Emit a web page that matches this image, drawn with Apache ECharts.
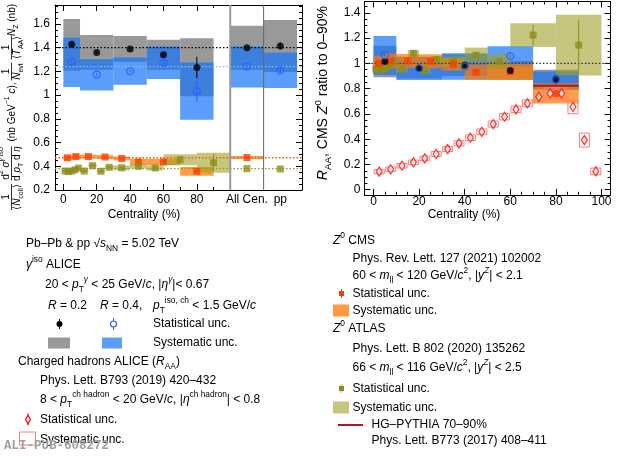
<!DOCTYPE html>
<html>
<head>
<meta charset="utf-8">
<script src="https://cdn.jsdelivr.net/npm/echarts@6.0.0/dist/echarts.min.js"></script>
<style>
html,body{margin:0;padding:0;background:#fff;}
#chart{width:620px;height:456px;}
</style>
</head>
<body>
<div id="chart"></div>
<script>
// ================= DATA =================
// ---- axis ticks / labels ----
const leftXTicks = [0, 20, 40, 60, 80];
const leftXMinorTicks = [10, 30, 50, 70, 90];
const leftXLabelValues = [0, 20, 40, 60, 80, 110, 130];
const leftXLabelText = {110: 'All Cen.', 130: 'pp'};
const leftYTicks = [0.2, 0.4, 0.6, 0.8, 1, 1.2, 1.4, 1.6];
const rightXTicks = [0, 20, 40, 60, 80, 100];
const rightYTicks = [0, 0.2, 0.4, 0.6, 0.8, 1, 1.2, 1.4];
const leftXRange = [-5, 143], leftYRange = [0.2, 1.76];
const rightXRange = [-4, 104], rightYRange = [-0.04, 1.49];

// ---- Left panel: isolated photons ALICE (yields) ----
const gBinLo = [0, 10, 30, 50, 70, 100, 120];
const gBinHi = [10, 30, 50, 70, 90, 120, 140];
const gX = [5, 20, 40, 60, 80, 110, 130];
const gR02 = [1.429, 1.359, 1.390, 1.340, 1.233, 1.400, 1.415];
const gR02Stat = [0.02, 0.012, 0.012, 0.02, 0.09, 0.01, 0.03];
const gR02SysLo = [1.205, 1.214, 1.281, 1.214, 0.990, 1.214, 1.195];
const gR02SysHi = [1.642, 1.508, 1.499, 1.466, 1.480, 1.586, 1.634];
const gR04 = [1.283, 1.174, 1.202, 1.275, 1.034, 1.241, 1.210];
const gR04Stat = [0.015, 0.012, 0.012, 0.02, 0.09, 0.01, 0.025];
const gR04SysLo = [1.068, 1.040, 1.088, 1.135, 0.793, 1.065, 1.060];
const gR04SysHi = [1.485, 1.303, 1.317, 1.410, 1.275, 1.410, 1.359];
const refR02 = 1.40, refR04 = 1.24, refCMS = 0.472, refATLAS = 0.38;
const separators = [100, 120];

// ---- Left panel: Z0 CMS (yields) ----
const cmsLo = [0, 5, 10, 20, 30, 40, 50, 70, 100];
const cmsHi = [5, 10, 20, 30, 40, 50, 70, 90, 120];
const cmsX = [2.5, 7.5, 15, 25, 35, 45, 60, 80, 110];
const cmsYield = [0.471, 0.482, 0.482, 0.478, 0.466, 0.437, 0.437, 0.358, 0.474];
const cmsYieldStat = [0.006, 0.006, 0.005, 0.005, 0.006, 0.008, 0.008, 0.01, 0.003];
const cmsYieldSys = [0.02, 0.018, 0.016, 0.016, 0.016, 0.026, 0.026, 0.037, 0.012];

// ---- Left panel: Z0 ATLAS (yields) ----
const atlLo = [0, 2, 4, 6, 8, 10, 15, 20, 25, 30, 40, 50, 60, 80];
const atlHi = [2, 4, 6, 8, 10, 15, 20, 25, 30, 40, 50, 60, 80, 100];
const atlX = [1, 3, 5, 7, 9, 12.5, 17.5, 22.5, 27.5, 35, 45, 55, 70, 90, 110, 130];
const atlYield = [0.360, 0.355, 0.360, 0.370, 0.385, 0.360, 0.405, 0.358, 0.392, 0.387, 0.400, 0.386, 0.455, 0.430, 0.380, 0.377];
const atlYieldStat = [0.01, 0.01, 0.01, 0.01, 0.01, 0.008, 0.008, 0.008, 0.008, 0.007, 0.008, 0.01, 0.03, 0.07, 0.003, 0.004];
const atlYieldSys = [0.01, 0.01, 0.01, 0.01, 0.01, 0.01, 0.01, 0.01, 0.012, 0.02, 0.02, 0.022, 0.047, 0.085];

// ---- Right panel: photon ratios ----
const rX = [5, 20, 40, 60, 80];
const rR02 = [1.015, 0.962, 0.985, 0.944, 0.876];
const rR02Stat = [0.015, 0.01, 0.01, 0.015, 0.03];
const rR02SysLo = [0.89, 0.88, 0.90, 0.87, 0.80];
const rR02SysHi = [1.14, 1.05, 1.07, 1.02, 0.95];
const rR04 = [1.065, 0.960, 0.975, 1.058, 0.868];
const rR04Stat = [0.015, 0.01, 0.01, 0.015, 0.04];
const rR04SysLo = [0.908, 0.868, 0.870, 0.975, 0.790];
const rR04SysHi = [1.217, 1.053, 1.080, 1.135, 0.936];

// ---- Right panel: CMS Z ratio to 0-90% ----
const cmsRatio = [1.0, 1.019, 1.019, 1.017, 0.993, 0.930, 0.934, 0.762];
const cmsRatioStat = [0.015, 0.015, 0.012, 0.012, 0.012, 0.015, 0.015, 0.02];
const cmsRatioSys = [0.06, 0.06, 0.055, 0.055, 0.05, 0.06, 0.065, 0.08];

// ---- Right panel: ATLAS Z ratio ----
const atlRatio = [0.955, 0.950, 0.955, 0.975, 1.010, 0.955, 1.080, 0.945, 1.030, 1.015, 1.065, 1.015, 1.224, 1.145];
const atlRatioStat = [0.03, 0.03, 0.03, 0.03, 0.03, 0.025, 0.025, 0.025, 0.025, 0.02, 0.025, 0.03, 0.08, 0.2];
const atlRatioSys = [0.025, 0.025, 0.025, 0.025, 0.025, 0.025, 0.025, 0.025, 0.028, 0.04, 0.06, 0.06, 0.094, 0.24];

// ---- Right panel: charged hadron R_AA ----
const raaX = [2.5, 7.5, 12.5, 17.5, 22.5, 27.5, 32.5, 37.5, 42.5, 47.5, 52.5, 57.5, 62.5, 67.5, 72.5, 77.5, 82.5, 87.5, 92.5, 97.5];
const raa = [0.143, 0.162, 0.190, 0.217, 0.248, 0.283, 0.322, 0.367, 0.412, 0.459, 0.520, 0.578, 0.636, 0.684, 0.736, 0.762, 0.762, 0.655, 0.393, 0.145];
const raaStat = [0.01, 0.01, 0.01, 0.01, 0.01, 0.01, 0.01, 0.01, 0.01, 0.01, 0.012, 0.012, 0.012, 0.012, 0.012, 0.012, 0.012, 0.015, 0.015, 0.012];
const raaSys = [0.018, 0.018, 0.018, 0.018, 0.018, 0.02, 0.02, 0.02, 0.022, 0.022, 0.024, 0.025, 0.026, 0.028, 0.04, 0.045, 0.045, 0.053, 0.055, 0.027];
const raaBinHalf = 2.2;

// ---- HG-PYTHIA 70-90% ----
const hgX = [70, 90];
const hgY = [0.824, 0.824];

// ================= STYLE / HELPERS =================
const FONT = "'Liberation Sans', Arial, Helvetica, sans-serif";
const C = {
  grey: '#999999', blue: 'rgba(20,115,250,0.7)', orange: 'rgba(255,120,0,0.72)', olive: 'rgba(160,160,40,0.6)',
  blueSolid: '#5a9dfb', orangeSolid: '#ff9a40', oliveSolid: '#c6c67e',
  cms: '#ff3c00', atlas: '#8c8c1a', blueMk: '#2a5cff', red: '#ff0000', redBox: '#ff7a7a', hg: '#a81c1c'
};

function lo(y, e) { return y.map((v, i) => v - e[i]); }
function hi(y, e) { return y.map((v, i) => v + e[i]); }

function boxes(xi, yi, x1, x2, y1, y2, style, z) {
  return {
    type: 'custom', xAxisIndex: xi, yAxisIndex: yi, z, silent: true,
    data: x1.map((v, i) => [v, x2[i], y1[i], y2[i]]),
    encode: {x: [0, 1], y: [2, 3]},
    renderItem: (p, api) => {
      const a = api.coord([api.value(0), api.value(3)]);
      const b = api.coord([api.value(1), api.value(2)]);
      return {type: 'rect', shape: {x: a[0], y: a[1], width: b[0] - a[0], height: b[1] - a[1]}, style: Object.assign({}, style)};
    }
  };
}
function errBars(xi, yi, xs, ys, errs, color, z) {
  return {
    type: 'custom', xAxisIndex: xi, yAxisIndex: yi, z, silent: true,
    data: xs.map((x, i) => [x, ys[i] - errs[i], ys[i] + errs[i]]),
    encode: {x: 0, y: [1, 2]},
    renderItem: (p, api) => {
      const a = api.coord([api.value(0), api.value(1)]);
      const b = api.coord([api.value(0), api.value(2)]);
      return {type: 'line', shape: {x1: a[0], y1: a[1], x2: b[0], y2: b[1]}, style: {stroke: color, lineWidth: 1}};
    }
  };
}
function hline(xi, yi, value, style, z) {
  return {
    type: 'custom', xAxisIndex: xi, yAxisIndex: yi, z, silent: true, data: [[value]],
    renderItem: (p, api) => {
      const cs = p.coordSys;
      const y = api.coord([0, api.value(0)])[1];
      return {type: 'line', shape: {x1: cs.x, y1: y, x2: cs.x + cs.width, y2: y}, style: Object.assign({}, style)};
    }
  };
}
function vline(xi, yi, value, style, z) {
  return {
    type: 'custom', xAxisIndex: xi, yAxisIndex: yi, z, silent: true, data: [[value]],
    renderItem: (p, api) => {
      const cs = p.coordSys;
      const x = api.coord([api.value(0), 1])[0];
      return {type: 'line', shape: {x1: x, y1: cs.y, x2: x, y2: cs.y + cs.height}, style: Object.assign({}, style)};
    }
  };
}
function pts(xi, yi, xs, ys, symbol, size, itemStyle, z) {
  return {
    type: 'scatter', xAxisIndex: xi, yAxisIndex: yi, z, silent: true, symbol, symbolSize: size, itemStyle,
    data: xs.map((x, i) => [x, ys[i]])
  };
}
function minorTicks(a, b, step, majors) {
  const out = [];
  for (let k = Math.round(a / step); k * step <= b + 1e-9; k++) {
    const v = Math.round(k * step * 1000) / 1000;
    if (!majors.some(m => Math.abs(m - v) < 1e-6)) out.push(v);
  }
  return out;
}
function gridAxes(gi, xr, yr, xMaj, xMin, xLab, xFmt, xMargin, yMaj, yMin, yLab, yMargin) {
  const lineOn = {show: true, onZero: false, lineStyle: {color: '#000', width: 1}};
  const lineOff = {show: false, onZero: false};
  const tick = (vals, len) => ({show: true, inside: true, length: len, customValues: vals, lineStyle: {color: '#000', width: 1}});
  const lab = (vals, fmt, margin) => ({show: true, customValues: vals, formatter: fmt, margin, fontSize: 12, fontFamily: FONT, color: '#000'});
  const noLab = {show: false};
  const xb = {type: 'value', gridIndex: gi, min: xr[0], max: xr[1], splitLine: {show: false}, offset: 0};
  const yb = {type: 'value', gridIndex: gi, min: yr[0], max: yr[1], splitLine: {show: false}, offset: 0};
  const x = [
    Object.assign({}, xb, {position: 'bottom', axisLine: lineOn, axisTick: tick(xMaj, 6), axisLabel: lab(xLab, xFmt, xMargin)}),
    Object.assign({}, xb, {position: 'bottom', axisLine: lineOff, axisTick: tick(xMin, 3), axisLabel: noLab}),
    Object.assign({}, xb, {position: 'top', axisLine: lineOn, axisTick: tick(xMaj, 6), axisLabel: noLab}),
    Object.assign({}, xb, {position: 'top', axisLine: lineOff, axisTick: tick(xMin, 3), axisLabel: noLab})
  ];
  const y = [
    Object.assign({}, yb, {position: 'left', axisLine: lineOn, axisTick: tick(yMaj, 6), axisLabel: lab(yLab, null, yMargin)}),
    Object.assign({}, yb, {position: 'left', axisLine: lineOff, axisTick: tick(yMin, 3), axisLabel: noLab}),
    Object.assign({}, yb, {position: 'right', axisLine: lineOn, axisTick: tick(yMaj, 6), axisLabel: noLab}),
    Object.assign({}, yb, {position: 'right', axisLine: lineOff, axisTick: tick(yMin, 3), axisLabel: noLab})
  ];
  return {x, y};
}

// rich text helpers
function richFor(fs) {
  const s = Math.round(fs * 0.7 * 10) / 10, lh = fs + 6, sl = s + 1;
  return {
    i: {fontSize: fs, fontFamily: FONT, fontStyle: 'italic', fill: '#000', lineHeight: lh},
    sup: {fontSize: s, fontFamily: FONT, fill: '#000', lineHeight: sl, verticalAlign: 'top'},
    sub: {fontSize: s, fontFamily: FONT, fill: '#000', lineHeight: sl, verticalAlign: 'bottom'},
    isup: {fontSize: s, fontFamily: FONT, fontStyle: 'italic', fill: '#000', lineHeight: sl, verticalAlign: 'top'}
  };
}
function txt(x, y, text, fs, align, extra) {
  return Object.assign({
    type: 'text', x, y, silent: true, z: 100,
    style: {
      text, fontSize: fs, fontFamily: FONT, fill: '#000', lineHeight: fs + 6, rich: richFor(fs),
      align: align || 'left', verticalAlign: 'middle', textAlign: align || 'left', textVerticalAlign: 'middle'
    }
  }, extra || {});
}
function gline(x1, y1, x2, y2, stroke, w) {
  return {type: 'line', silent: true, z: 100, shape: {x1, y1, x2, y2}, style: {stroke, lineWidth: w}};
}
function grect(x, y, w, h, style) {
  return {type: 'rect', silent: true, z: 100, shape: {x, y, width: w, height: h}, style};
}

// ================= AXES =================
const xFmtLeft = v => (leftXLabelText[v] !== undefined ? leftXLabelText[v] : String(v));
const A0 = gridAxes(0, leftXRange, leftYRange, leftXTicks, leftXMinorTicks, leftXLabelValues, xFmtLeft, 4,
  leftYTicks, minorTicks(0.2, 1.75, 0.05, leftYTicks), leftYTicks, 5);
const A1 = gridAxes(1, rightXRange, rightYRange, rightXTicks, minorTicks(0, 100, 5, rightXTicks), rightXTicks, v => String(v), 1,
  rightYTicks, minorTicks(0, 1.45, 0.05, rightYTicks), rightYTicks, 4);

const L = 0, R = 4;

// ================= SERIES =================
const series = [
  // ---- left panel ----
  boxes(L, L, gBinLo, gBinHi, gR02SysLo, gR02SysHi, {fill: C.grey}, 1),
  boxes(L, L, gBinLo, gBinHi, gR04SysLo, gR04SysHi, {fill: C.blue}, 2),
  boxes(L, L, cmsLo, cmsHi, lo(cmsYield, cmsYieldSys), hi(cmsYield, cmsYieldSys), {fill: C.orange}, 3),
  boxes(L, L, atlLo, atlHi, lo(atlYield.slice(0, atlLo.length), atlYieldSys), hi(atlYield.slice(0, atlLo.length), atlYieldSys), {fill: C.olive}, 4),
  hline(L, L, refR02, {stroke: '#000', lineWidth: 1.3, lineDash: [1.5, 2]}, 5),
  hline(L, L, refR04, {stroke: '#8fb8f8', lineWidth: 1.3, lineDash: [1.5, 2]}, 5),
  hline(L, L, refCMS, {stroke: '#ff5a00', lineWidth: 1.3, lineDash: [1.5, 2]}, 5),
  hline(L, L, refATLAS, {stroke: '#9a9a10', lineWidth: 1.3, lineDash: [1.5, 2]}, 5),
  vline(L, L, separators[0], {stroke: '#999', lineWidth: 2}, 6),
  vline(L, L, separators[1], {stroke: '#666', lineWidth: 1}, 6),
  errBars(L, L, gX, gR02, gR02Stat, '#000', 8),
  errBars(L, L, gX, gR04, gR04Stat, C.blueMk, 8),
  errBars(L, L, cmsX, cmsYield, cmsYieldStat, C.cms, 8),
  errBars(L, L, atlX, atlYield, atlYieldStat, C.atlas, 8),
  pts(L, L, cmsX, cmsYield, 'rect', 7, {color: C.cms}, 9),
  pts(L, L, atlX, atlYield, 'rect', 7, {color: C.atlas}, 9),
  pts(L, L, gX, gR02, 'circle', 7, {color: '#000'}, 10),
  pts(L, L, gX, gR04, 'circle', 7, {color: 'rgba(0,0,0,0)', borderColor: C.blueMk, borderWidth: 1.3}, 10),

  // ---- right panel ----
  boxes(R, R, gBinLo.slice(0, 5), gBinHi.slice(0, 5), rR02SysLo, rR02SysHi, {fill: C.grey}, 1),
  boxes(R, R, gBinLo.slice(0, 5), gBinHi.slice(0, 5), rR04SysLo, rR04SysHi, {fill: C.blue}, 2),
  boxes(R, R, cmsLo.slice(0, 8), cmsHi.slice(0, 8), lo(cmsRatio, cmsRatioSys), hi(cmsRatio, cmsRatioSys), {fill: C.orange}, 3),
  boxes(R, R, atlLo, atlHi, lo(atlRatio, atlRatioSys), hi(atlRatio, atlRatioSys), {fill: C.olive}, 4),
  boxes(R, R, raaX.map(x => x - raaBinHalf), raaX.map(x => x + raaBinHalf), lo(raa, raaSys), hi(raa, raaSys),
    {fill: 'none', stroke: C.redBox, lineWidth: 1}, 5),
  {type: 'line', xAxisIndex: R, yAxisIndex: R, z: 6, silent: true, showSymbol: false, symbol: 'none',
    data: hgX.map((x, i) => [x, hgY[i]]), lineStyle: {color: C.hg, width: 2}},
  hline(R, R, 1, {stroke: '#333', lineWidth: 1.2, lineDash: [1.5, 2]}, 6),
  errBars(R, R, raaX, raa, raaStat, C.red, 8),
  errBars(R, R, rX, rR02, rR02Stat, '#000', 8),
  errBars(R, R, rX, rR04, rR04Stat, C.blueMk, 8),
  errBars(R, R, cmsX.slice(0, 8), cmsRatio, cmsRatioStat, C.cms, 8),
  errBars(R, R, atlX.slice(0, 14), atlRatio, atlRatioStat, C.atlas, 8),
  pts(R, R, atlX.slice(0, 14), atlRatio, 'rect', 7, {color: C.atlas}, 9),
  pts(R, R, cmsX.slice(0, 8), cmsRatio, 'rect', 7, {color: C.cms}, 9),
  pts(R, R, rX, rR02, 'circle', 7, {color: '#000'}, 10),
  pts(R, R, rX, rR04, 'circle', 7, {color: 'rgba(0,0,0,0)', borderColor: C.blueMk, borderWidth: 1.3}, 10),
  pts(R, R, raaX, raa, 'diamond', [6, 9], {color: '#fff', borderColor: C.red, borderWidth: 1.3}, 11)
];

// ================= TEXT / LEGENDS =================
const LT = 10;
function rfrac(u, num, den, w) {
  return [
    txt(u, 6, num, LT, 'center'),
    {type: 'line', silent: true, shape: {x1: u - w / 2, y1: 11.5, x2: u + w / 2, y2: 11.5}, style: {stroke: '#000', lineWidth: 0.8}},
    txt(u, 17, den, LT, 'center')
  ];
}
const leftTitle = {
  type: 'group', x: 0, y: 214, rotation: Math.PI / 2, silent: true,
  children: [].concat(
    rfrac(17, '1', '⟨{i|N}{sub|coll}⟩', 26),
    rfrac(50.5, 'd{sup|2} {i|σ}{isup|γ iso}', 'd {i|p}{sub|T} d {i|η}', 34),
    [txt(102, 12, '(nb GeV{sup|−1} {i|c}),', LT, 'center')],
    rfrac(142.5, '1', '{i|N}{sub|evt}', 18),
    rfrac(166.5, '1', '⟨{i|T}{sub|AA}⟩', 24),
    [txt(194, 12, '{i|N}{sub|Z} (nb)', LT, 'center')]
  )
};

const F = 12;
const graphics = [
  leftTitle,
  txt(323, 6, '{i|R}{sub|AA}, CMS {i|Z}{sup|0} ratio to 0–90%', 14, 'right', {rotation: Math.PI / 2}),
  txt(144, 215, 'Centrality (%)', 12, 'center'),
  txt(464, 215, 'Centrality (%)', 12, 'center'),

  // left legend
  txt(26, 243.5, 'Pb–Pb & pp √{i|s}{sub|NN} = 5.02 TeV', F),
  txt(26, 265, '{i|γ}{sup|iso} ALICE', F),
  txt(45, 285, '20 < {i|p}{sub|T}{isup|γ} < 25 GeV/{i|c}, |{i|η}{isup|γ}|< 0.67', F),
  txt(48, 306, '{i|R} = 0.2', F),
  txt(100, 306, '{i|R} = 0.4,', F),
  txt(153, 306, '{i|p}{sub|T}{sup|iso, ch} < 1.5 GeV/{i|c}', F),
  gline(59.5, 319, 59.5, 329, '#000', 1),
  {type: 'circle', silent: true, z: 100, shape: {cx: 59.5, cy: 324, r: 3}, style: {fill: '#000'}},
  gline(113.5, 318, 113.5, 330, C.blueMk, 1),
  {type: 'circle', silent: true, z: 101, shape: {cx: 113.5, cy: 324, r: 3}, style: {fill: '#fff', stroke: C.blueMk, lineWidth: 1.2}},
  txt(153, 324, 'Statistical unc.', F),
  grect(48, 337.5, 22, 11, {fill: C.grey}),
  grect(102, 337.5, 20, 11, {fill: C.blueSolid}),
  txt(153, 343, 'Systematic unc.', F),
  txt(18, 361.5, 'Charged hadrons ALICE ({i|R}{sub|AA})', F),
  txt(40, 381, 'Phys. Lett. B793 (2019) 420–432', F),
  txt(40, 400, '8 < {i|p}{sub|T}{sup|ch hadron} < 20 GeV/{i|c}, |{i|η}{sup|ch hadron}| < 0.8', F),
  gline(28, 413.5, 28, 425.5, C.red, 1),
  {type: 'polygon', silent: true, z: 101, shape: {points: [[28, 415.5], [30.5, 419.5], [28, 423.5], [25.5, 419.5]]}, style: {fill: '#fff', stroke: C.red, lineWidth: 1.2}},
  txt(40, 419.5, 'Statistical unc.', F),
  grect(19.5, 432, 16, 13, {fill: 'none', stroke: C.redBox, lineWidth: 1}),
  txt(40, 440, 'Systematic unc.', F),

  // right legend
  txt(333, 241, '{i|Z}{sup|0} CMS', F),
  txt(352.5, 258.5, 'Phys. Rev. Lett. 127 (2021) 102002', F),
  txt(352.5, 275.5, '60 < {i|m}{sub|ll} < 120 GeV/{i|c}{sup|2}, |{i|y}{isup|Z}| < 2.1', F),
  gline(341.5, 289, 341.5, 298, C.cms, 1),
  grect(339, 291, 5, 5, {fill: C.cms}),
  txt(352.5, 293.5, 'Statistical unc.', F),
  grect(333, 304.5, 16, 12, {fill: C.orangeSolid}),
  txt(352.5, 311, 'Systematic unc.', F),
  txt(333, 329, '{i|Z}{sup|0} ATLAS', F),
  txt(352.5, 349, 'Phys. Lett. B 802 (2020) 135262', F),
  txt(352.5, 368, '66 < {i|m}{sub|ll} < 116 GeV/{i|c}{sup|2}, |{i|y}{isup|Z}| < 2.5', F),
  gline(341.5, 384, 341.5, 393, '#d8d890', 2),
  grect(339, 386, 5, 5, {fill: C.atlas}),
  txt(352.5, 388.5, 'Statistical unc.', F),
  grect(333, 401.5, 16, 12, {fill: C.oliveSolid}),
  txt(352.5, 407.5, 'Systematic unc.', F),
  gline(338, 425, 363, 425, C.hg, 2),
  txt(371.5, 425, 'HG–PYTHIA 70–90%', F),
  txt(371.5, 441, 'Phys. Lett. B773 (2017) 408–411', F),

  // watermark
  {type: 'text', x: 4, y: 446, silent: true, z: 120,
    style: {text: 'ALI-PUB-608272', fontSize: 12.5, fontWeight: 'bold', fontFamily: "'Liberation Mono', 'DejaVu Sans Mono', monospace",
      fill: '#a0a0a0', align: 'left', verticalAlign: 'middle', textAlign: 'left', textVerticalAlign: 'middle'}}
];

// ================= CHART =================
const chart = echarts.init(document.getElementById('chart'), null, {renderer: 'canvas', width: 620, height: 456});
chart.setOption({
  animation: false,
  backgroundColor: '#fff',
  textStyle: {fontFamily: FONT},
  grid: [
    {left: 55, top: 5, width: 247, height: 185, containLabel: false, outerBoundsMode: 'none'},
    {left: 364.4, top: 1.5, width: 246.2, height: 193.3, containLabel: false, outerBoundsMode: 'none'}
  ],
  xAxis: A0.x.concat(A1.x),
  yAxis: A0.y.concat(A1.y),
  series,
  graphic: {elements: graphics}
});
</script>
</body>
</html>
